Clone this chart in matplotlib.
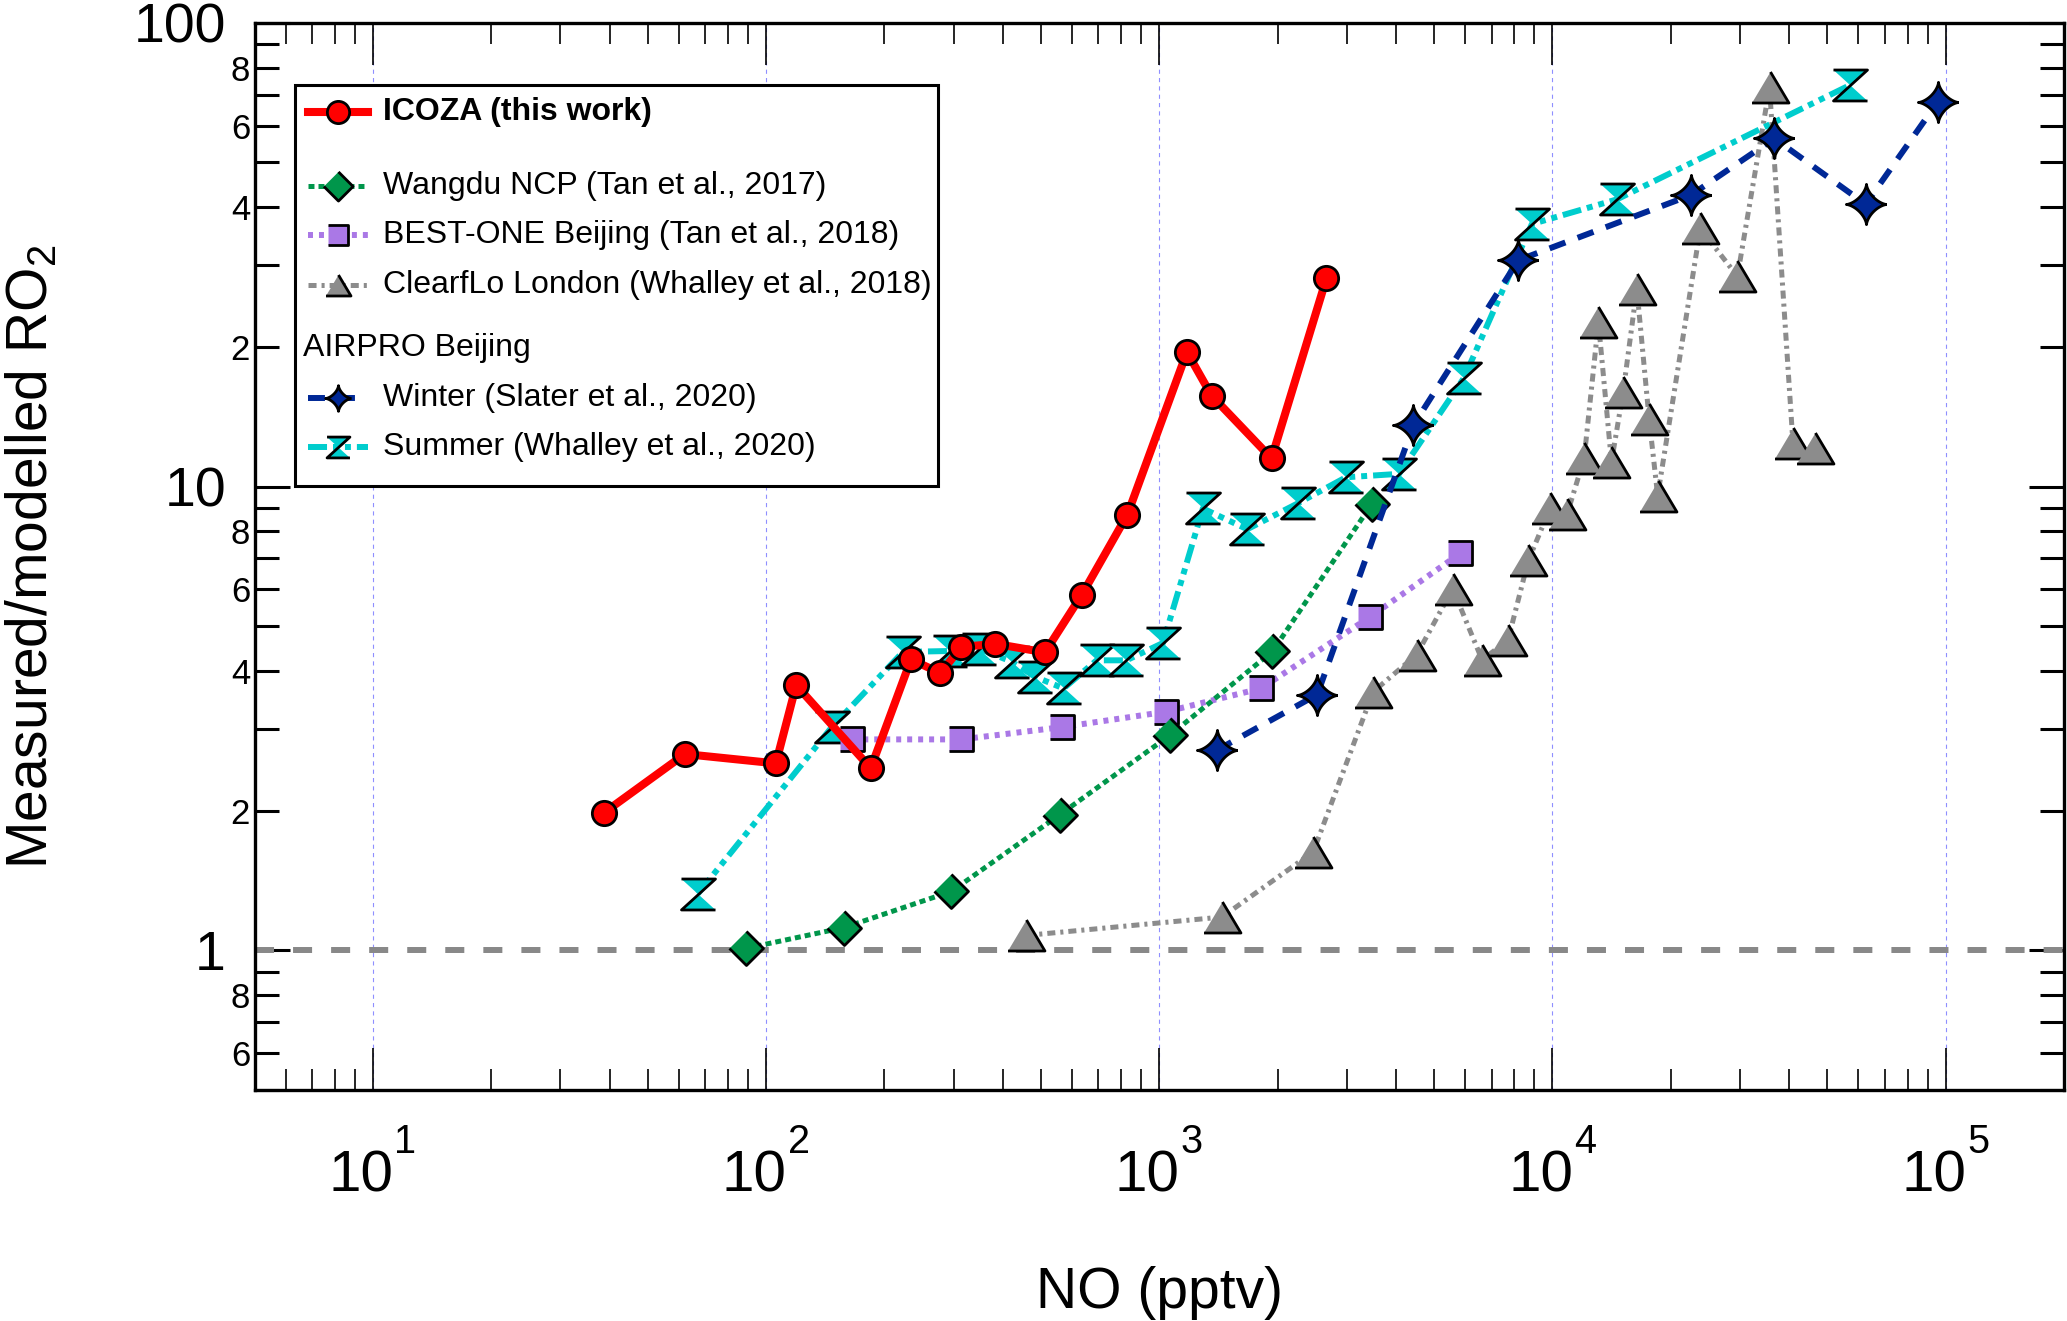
import numpy as np
import matplotlib
matplotlib.use("Agg")
import matplotlib.pyplot as plt
from matplotlib.ticker import LogLocator, FuncFormatter, NullFormatter
from matplotlib.patches import Rectangle

plt.rcParams['font.family'] = ['Liberation Sans', 'DejaVu Sans']
plt.rcParams['mathtext.fontset'] = 'custom'
plt.rcParams['mathtext.rm'] = 'Liberation Sans'
plt.rcParams['mathtext.it'] = 'Liberation Sans:italic'
plt.rcParams['mathtext.bf'] = 'Liberation Sans:bold'
plt.rcParams['lines.scale_dashes'] = False

# --- data (NO in pptv, measured/modelled RO2) ---
icoza_no = [38.7, 62.2, 105.9, 119.3, 184.6, 233.7, 277.5, 314, 383, 512, 636, 830,
            1176, 1359, 1930, 2662]
icoza_ratio = [1.98, 2.65, 2.53, 3.73, 2.47, 4.24, 3.96, 4.51, 4.58, 4.39, 5.85, 8.70,
               19.5, 15.7, 11.5, 28.1]

wangdu_no = [88.9, 158, 296, 558, 1065, 1940, 3470]
wangdu_ratio = [1.01, 1.12, 1.34, 1.96, 2.91, 4.41, 9.16]

bestone_no = [165.7, 314, 567, 1042, 1813, 3444, 5831]
bestone_ratio = [2.85, 2.85, 3.03, 3.27, 3.67, 5.24, 7.18]

clearflo_no = [459, 1444, 2464, 3499, 4516, 5579, 6622, 7705, 8684, 9865, 10900, 12040,
               13090, 14130, 15130, 16390, 17620, 18520, 23770, 29540, 35650, 40900, 46400]
clearflo_ratio = [1.077, 1.18, 1.63, 3.61, 4.34, 6.02, 4.23, 4.66, 6.93, 8.97, 8.73, 11.5,
                  22.6, 11.3, 16.0, 26.7, 13.95, 9.56, 36.0, 28.4, 72.5, 12.4, 12.1]

winter_no = [1399, 2523, 4430, 8189, 22510, 36670, 62600, 95500]
winter_ratio = [2.70, 3.56, 13.56, 30.76, 42.5, 56.3, 40.6, 67.5]

summer_no = [67.1, 147, 223, 294, 348, 422, 483, 571, 693, 825, 1022, 1291, 1674, 2257,
             2984, 4072, 5957, 8863, 14590, 57000]
summer_ratio = [1.325, 3.03, 4.40, 4.42, 4.47, 4.19, 3.89, 3.67, 4.22, 4.22, 4.60, 8.97,
                8.09, 9.21, 10.47, 10.65, 17.15, 36.8, 41.6, 73.3]

labels = ['ICOZA (this work)', 'Wangdu NCP (Tan et al., 2017)',
          'BEST-ONE Beijing (Tan et al., 2018)', 'ClearfLo London (Whalley et al., 2018)',
          'AIRPRO Beijing', 'Winter (Slater et al., 2020)', 'Summer (Whalley et al., 2020)']
x_decades = [1, 2, 3, 4, 5]

# --- marker shapes ---
diamond = [(0, 1), (1, 0), (0, -1), (-1, 0)]
square = [(-1, -1), (1, -1), (1, 1), (-1, 1)]
triangle = [(-1, -0.84), (1, -0.84), (0, 0.84)]
hourglass = [(-1, 0.91), (1, 0.91), (-1, -0.91), (1, -0.91)]
t = np.linspace(0, 2 * np.pi, 97)
star = list(zip(np.sign(np.cos(t)) * np.abs(np.cos(t)) ** 3.0,
                np.sign(np.sin(t)) * np.abs(np.sin(t)) ** 3.0))

red, green, purple, grey, blue, cyan = '#FF0000', '#00964B', '#AA78E6', '#8C8C8C', '#002896', '#00CDCD'

series = [
    # x, y, colour, linestyle, lw, marker, ms, legend ms, zorder
    (clearflo_no, clearflo_ratio, grey, (0, (5.8, 3.6, 2.2, 3.6)), 3.6, triangle, 26.6, 18, 3),
    (summer_no, summer_ratio, cyan, (0, (13.7, 4.3, 4.3, 4.3, 4.3, 4.3)), 4.3, hourglass, 24.5, 16.5, 4),
    (bestone_no, bestone_ratio, purple, (0, (3.6, 4.3)), 4.3, square, 17.3, 15, 5),
    (wangdu_no, wangdu_ratio, green, (0, (4.3, 2.9)), 3.6, diamond, 24.5, 21, 6),
    (winter_no, winter_ratio, blue, (0, (12.2, 9.4)), 4.3, star, 29, 18.5, 7),
    (icoza_no, icoza_ratio, red, '-', 5.8, 'o', 17.5, 16, 8),
]

fig = plt.figure(figsize=(20.67, 13.21), dpi=100)
ax = fig.add_axes([0.12313, 0.17487, 0.87542, 0.80795])

for x, y, c, ls, lw, mk, ms, lms, z in series:
    ax.plot(x, y, color=c, ls=ls, lw=lw, marker=mk, ms=ms, mfc=c, mec='black',
            mew=2.0, zorder=z)

ax.axhline(1.0, color='#888888', lw=4.3, ls=(0, (13.7, 13.7)), zorder=1.8)

ax.set_xscale('log')
ax.set_yscale('log')
ax.set_xlim(5, 2e5)
ax.set_ylim(0.5, 100)

ax.xaxis.set_major_locator(LogLocator(base=10, numticks=20))
ax.xaxis.set_minor_locator(LogLocator(base=10, subs=np.arange(2, 10), numticks=50))
ax.xaxis.set_major_formatter(NullFormatter())
ax.xaxis.set_minor_formatter(NullFormatter())
ax.yaxis.set_major_locator(LogLocator(base=10, numticks=20))
ax.yaxis.set_minor_locator(LogLocator(base=10, subs=np.arange(2, 10), numticks=50))


def minor_label(v, pos):
    lead = int(round(v / 10 ** np.floor(np.log10(v) + 1e-9)))
    return str(lead) if lead in (2, 4, 6, 8) else ''


ax.yaxis.set_major_formatter(FuncFormatter(lambda v, p: f'{v:g}'))
ax.yaxis.set_minor_formatter(FuncFormatter(minor_label))

ax.tick_params(axis='y', which='major', direction='in', length=25, width=2.2, pad=20.5,
               labelsize=40, left=True, right=True)
ax.tick_params(axis='y', which='minor', direction='in', length=17, width=2.2, pad=3.2,
               labelsize=25, left=True, right=True)
ax.tick_params(axis='x', which='major', direction='in', length=30, width=1.2,
               top=True, bottom=True)
ax.tick_params(axis='x', which='minor', direction='in', length=15, width=1.2,
               top=True, bottom=True)
for sp in ax.spines.values():
    sp.set_linewidth(2.4)

ax.grid(True, which='major', axis='x', color='#8F8FFF', lw=0.8, ls=(0, (3, 3)))
ax.grid(False, which='minor')

# x tick labels in "10 with raised exponent" style
for d in x_decades:
    ax.annotate('10', xy=(10.0 ** d, 0), xycoords=('data', 'axes fraction'),
                xytext=(14.8, -73.4), textcoords='offset points',
                ha='right', va='baseline', fontsize=42)
    ax.annotate(str(d), xy=(10.0 ** d, 0), xycoords=('data', 'axes fraction'),
                xytext=(15.5, -45.4), textcoords='offset points',
                ha='left', va='baseline', fontsize=28.5)

fig.text(4 / 2067, 1 - 557 / 1321, 'Measured/modelled RO$_2$', rotation=90,
         ha='left', va='center', fontsize=41)
fig.text(1159 / 2067, 1 - 1308 / 1321, 'NO (pptv)', ha='center', va='baseline', fontsize=41)

# legend, drawn by hand to get the grouped layout
ax.add_patch(Rectangle((0.02238, 0.5659), 0.35507, 0.3757, transform=ax.transAxes,
                       facecolor='white', edgecolor='black', lw=2.2, zorder=20))
rows = {'ICOZA (this work)': 0.9166, 'Wangdu NCP (Tan et al., 2017)': 0.8470,
        'BEST-ONE Beijing (Tan et al., 2018)': 0.8008,
        'ClearfLo London (Whalley et al., 2018)': 0.7542,
        'Winter (Slater et al., 2020)': 0.6487, 'Summer (Whalley et al., 2020)': 0.6027}
order = [5, 3, 2, 0, 4, 1]
for lab, idx in zip([l for l in labels if l != 'AIRPRO Beijing'], order):
    x, y, c, ls, lw, mk, ms, lms, z = series[idx]
    yy = rows[lab]
    ax.plot([0.02957, 0.06272], [yy, yy], transform=ax.transAxes, color=c, ls=ls, lw=lw,
            zorder=21, clip_on=False)
    ax.plot([0.04614], [yy], transform=ax.transAxes, marker=mk, ms=lms, mfc=c,
            mec='black', mew=2.0, zorder=22, clip_on=False, ls='none')
    ax.text(0.07085, yy, lab, transform=ax.transAxes, ha='left', va='center',
            fontsize=23, zorder=23,
            fontweight='bold' if lab.startswith('ICOZA') else 'normal')
ax.text(0.0268, 0.6949, 'AIRPRO Beijing', transform=ax.transAxes, ha='left', va='center',
        fontsize=23, zorder=23)

fig.savefig('out.png', dpi=100)
